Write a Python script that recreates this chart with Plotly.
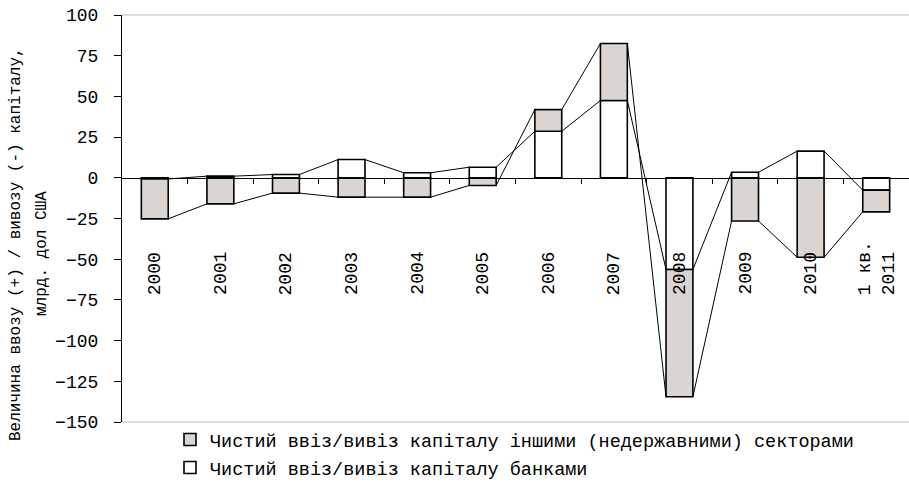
import plotly.graph_objects as go

# ---- data ----
categories = ["2000", "2001", "2002", "2003", "2004", "2005", "2006", "2007",
              "2008", "2009", "2010", "1 кв.<br>2011"]
banks = [-0.7, 1.0, 2.0, 11.2, 3.1, 6.5, 28.6, 47.5, -56.3, 3.4, 16.4, -7.6]
other_sectors = [-24.5, -16.0, -9.4, -11.9, -11.9, -4.7, 13.3, 35.0, -78.2, -26.5, -48.8, -13.3]
y_ticks = [-150, -125, -100, -75, -50, -25, 0, 25, 50, 75, 100]

name_other = "Чистий ввіз/вивіз капіталу іншими (недержавними) секторами"
name_banks = "Чистий ввіз/вивіз капіталу банками"
y_title_1 = "Величина ввозу (+) / вивозу (-) капіталу,"
y_title_2 = "млрд. дол США"

FONT = "Liberation Mono"
BAR_W = 0.41
GREY = "#DBD5D2"

# plot-area geometry in pixels (for placing text)
L, R, T, B = 122, 909, 15, 422
PW, PH = R - L, B - T

def px_x(p):
    return (p - L) / PW

def px_y(p):
    return (B - p) / PH

x = list(range(len(categories)))

fig = go.Figure()
fig.add_trace(go.Bar(x=x, y=banks, width=BAR_W, name=name_banks,
                     marker=dict(color="white", line=dict(color="black", width=1.6)),
                     legend="legend2"))
fig.add_trace(go.Bar(x=x, y=other_sectors, width=BAR_W, name=name_other,
                     marker=dict(color=GREY, line=dict(color="black", width=1.6)),
                     legend="legend"))

# series lines (Excel style): connect segment ends of adjacent bars
ends_banks = list(banks)
ends_other = []
for b, o in zip(banks, other_sectors):
    ends_other.append(b + o if (b >= 0) == (o >= 0) else o)

for ends in (ends_banks, ends_other):
    lx, ly = [], []
    for i in range(len(ends) - 1):
        lx += [x[i] + BAR_W / 2, x[i + 1] - BAR_W / 2, None]
        ly += [ends[i], ends[i + 1], None]
    fig.add_trace(go.Scatter(x=lx, y=ly, mode="lines", showlegend=False,
                             line=dict(color="black", width=1), hoverinfo="skip"))

# category labels, rotated
for xi, c in zip(x, categories):
    fig.add_annotation(x=xi, y=px_y(297), xref="x", yref="paper",
                       text=c, textangle=-90, showarrow=False, align="left",
                       xanchor="center", yanchor="bottom",
                       font=dict(family=FONT, size=18, color="black"))

# y axis title (two lines)
fig.add_annotation(x=px_x(16), y=px_y(244), xref="paper", yref="paper",
                   text=y_title_1, textangle=-90, showarrow=False,
                   xanchor="center", yanchor="middle",
                   font=dict(family=FONT, size=16, color="black"))
fig.add_annotation(x=px_x(42), y=px_y(254), xref="paper", yref="paper",
                   text=y_title_2, textangle=-90, showarrow=False,
                   xanchor="center", yanchor="middle",
                   font=dict(family=FONT, size=16, color="black"))

# frame lines top / bottom
for yy in (0, 1):
    fig.add_shape(type="line", xref="paper", yref="paper", x0=0, x1=1, y0=yy, y1=yy,
                  line=dict(color="#BDBDBD", width=1.2), layer="below")

fig.update_layout(
    width=909, height=482,
    margin=dict(l=L, r=909 - R, t=T, b=482 - B, autoexpand=False),
    paper_bgcolor="white", plot_bgcolor="white",
    barmode="relative",
    font=dict(family=FONT, size=18, color="black"),
    xaxis=dict(range=[-0.5, 11.5], anchor="free", position=0.6, automargin=False,
               showline=True, linecolor="black", linewidth=1.2,
               ticks="outside", tickvals=[i + 0.5 for i in range(11)], ticklen=5,
               tickcolor="black", showticklabels=False, showgrid=False, zeroline=False),
    yaxis=dict(range=[-150, 100], tickvals=y_ticks, showline=True, linecolor="black",
               linewidth=1.2, ticks="outside", ticklen=7, tickcolor="black",
               ticklabelstandoff=12, showgrid=False, zeroline=False, automargin=False,
               tickfont=dict(family=FONT, size=18, color="black")),
    legend=dict(x=px_x(170), y=px_y(440), xanchor="left", yanchor="middle",
                bgcolor="rgba(0,0,0,0)", font=dict(family=FONT, size=18.5)),
    legend2=dict(x=px_x(170), y=px_y(468), xanchor="left", yanchor="middle",
                 bgcolor="rgba(0,0,0,0)", font=dict(family=FONT, size=18.5)),
    showlegend=True,
)

fig.write_html("out.html", config={"displayModeBar": False},
               post_script="document.body.style.margin='0';document.body.style.overflow='hidden';")
